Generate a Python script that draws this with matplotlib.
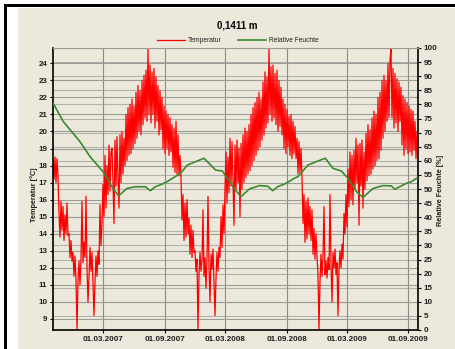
import datetime as dt

import matplotlib
matplotlib.use("Agg")
import matplotlib.pyplot as plt
import matplotlib.dates as mdates
from matplotlib.patches import Rectangle

plt.rcParams["font.family"] = "Liberation Sans"

# soil temperature at 0,1411 m, one reading every 3 days from 01.10.2006
start = dt.date(2006, 10, 1)
step_days = 3
temperatur = [
    18.3, 17.2, 18.5, 17.0, 18.4, 17.4,
    15.2, 13.8, 15.9, 14.2, 15.6, 13.6, 15.1, 14.0, 15.8, 13.9,
    14.0, 12.6, 13.6, 12.4,
    12.9, 11.5, 12.7, 11.3, 8.4,
    11.2, 12.4, 11.0,
    12.5, 15.9,
    12.3, 13.5,
    12.6, 16.2,
    12.0, 10.0, 11.5,
    13.2, 11.8, 12.9,
    11.0, 9.2, 11.2,
    12.7, 11.5, 13.0,
    12.2, 15.7, 13.3, 14.6, 16.9,
    15.0, 18.6, 15.5, 18.0,
    16.3, 19.2, 16.5, 18.8,
    19.0, 17.0, 14.6,
    19.5, 16.8, 19.7, 17.2, 15.5,
    19.8, 17.0, 20.0, 17.5, 19.6,
    18.0, 21.0, 18.3, 21.4, 18.6,
    21.6, 18.7, 21.9, 19.0, 21.5,
    19.3, 22.3, 19.6, 22.7, 20.0, 22.4, 19.8,
    23.0, 20.4, 23.3, 20.8,
    23.6, 20.6, 24.88,
    21.0, 23.9, 20.5, 23.5, 21.0,
    23.7, 20.2, 23.2, 20.6,
    22.7, 19.8, 22.4, 20.1, 22.0,
    19.0, 21.5, 18.7, 21.2, 19.0,
    21.0, 18.6, 20.8, 18.8, 20.4,
    17.9, 20.2,
    17.6, 20.6, 17.5, 19.8, 17.4,
    18.6, 17.3,
    14.8, 16.3, 13.6, 15.8, 13.8, 16.0, 14.0,
    14.9, 12.8, 14.5, 12.6, 14.2, 12.9,
    13.0, 11.8, 12.5, 8.4,
    11.6, 12.9, 11.8,
    12.4, 15.4,
    11.5, 12.6, 10.8,
    12.5, 16.2,
    12.0, 10.0,
    12.8, 11.9, 13.1,
    11.2, 9.2,
    11.4, 12.9, 11.8, 13.2,
    12.6, 15.0, 13.2, 15.7, 14.0,
    16.6, 18.8, 15.8,
    18.5, 16.4, 19.6, 16.8, 19.4, 17.2, 14.5,
    19.2, 16.6, 19.5, 17.0,
    19.0, 15.0, 19.3,
    16.6, 19.8, 17.0, 20.2, 17.3, 20.0, 17.5, 20.4,
    17.7, 21.0, 18.0, 21.4, 18.3,
    21.7, 18.6, 22.0, 18.9, 22.3, 19.1, 21.9,
    19.5, 22.9, 19.8, 23.5, 20.2, 23.2,
    20.5, 24.88, 21.0, 23.8,
    20.6, 23.9, 20.8, 23.4, 20.4, 23.6,
    20.0, 23.0, 20.3, 22.6, 19.8,
    21.9, 19.0, 21.6, 18.7, 21.3, 19.1, 20.9,
    18.6, 21.0, 18.4, 20.6, 18.7, 20.3, 18.4,
    19.6, 17.5, 19.4, 17.6,
    19.0, 17.3,
    14.6, 16.3, 13.5, 15.9, 13.7, 16.1, 14.0, 15.6, 13.6, 15.4,
    12.8, 14.3, 12.5, 14.0, 12.7,
    11.6, 8.4,
    11.2, 12.8, 11.5, 12.7,
    15.6,
    11.6, 12.4,
    11.4, 12.6, 11.9, 16.3,
    12.2, 10.0,
    12.9, 12.0, 13.1,
    11.6, 12.3, 9.2,
    11.9, 13.0, 12.0, 13.4, 12.5,
    15.2, 14.0, 16.3, 14.4,
    17.8, 15.6, 18.8, 16.0,
    18.6, 15.7, 18.9,
    16.6, 19.6, 17.0, 19.2, 14.5, 19.3, 16.8, 19.5,
    15.5, 18.8, 16.6,
    19.9, 17.1, 20.4, 17.4, 20.1, 17.5,
    20.8, 17.8, 21.2, 18.0, 21.0,
    18.3, 22.0, 18.4, 22.3, 18.9,
    23.0, 19.6, 23.3, 20.0, 23.0,
    20.6, 24.0, 20.8, 24.2,
    24.88,
    20.8, 23.7, 20.2, 23.4, 20.5,
    23.1, 20.0, 22.9, 20.6, 22.6,
    19.2, 22.1, 18.6, 21.9, 19.0,
    21.7, 18.7, 21.5, 18.8, 21.3,
    18.6, 21.2, 18.9, 20.6,
    18.4, 20.0, 18.6,
]

# relative humidity, days after 01.10.2006
feuchte_tage = [
    0, 31, 81, 111, 151, 181, 197, 222, 247, 277, 292, 307, 327, 342,
    367, 383, 403, 428, 453, 473, 488, 508, 523, 543, 564, 589, 619, 644,
    659, 674, 699, 724, 735, 765, 790, 817, 840, 865, 885, 910, 930, 960,
    990, 1015, 1025, 1040, 1060, 1075, 1093,
]
feuchte = [
    80.5, 73.9, 66.8, 61.5, 56.0, 50.0, 47.6, 50.2, 50.8, 50.8, 49.4, 50.8,
    51.7, 52.6, 54.4, 55.6, 58.5, 59.7, 60.9, 58.5, 56.7, 56.4, 53.8, 50.2,
    47.3, 50.0, 51.2, 51.0, 49.4, 50.8, 52.0, 53.8, 54.4, 58.5, 59.7, 60.9,
    57.3, 56.4, 53.8, 49.1, 47.0, 50.2, 51.2, 51.1, 49.9, 50.8, 52.0, 52.6,
    54.0,
]

temp_dates = [start + dt.timedelta(days=step_days * i) for i in range(len(temperatur))]
feuchte_dates = [start + dt.timedelta(days=d) for d in feuchte_tage]

PANEL = "#ece9dc"
RED = "#ff0000"
GREEN = "#3a8a2e"
TEXT = "#1e1e1e"

W, H = 456, 349
fig = plt.figure(figsize=(W / 100, H / 100), dpi=100)
fig.patch.set_facecolor("white")

# beige panel with the dark edge on the left and top
fig.add_artist(Rectangle((18 / W, 0), 1, 1 - 8 / H, transform=fig.transFigure,
                         facecolor=PANEL, edgecolor="none", zorder=-10))
fig.add_artist(Rectangle((4 / W, 0), 3 / W, 1 - 4 / H, transform=fig.transFigure,
                         facecolor="black", edgecolor="none", zorder=-9))
fig.add_artist(Rectangle((4 / W, 1 - 6.5 / H), 1, 2.5 / H, transform=fig.transFigure,
                         facecolor="black", edgecolor="none", zorder=-9))

ax = fig.add_axes([53 / W, 19 / H, 365 / W, 282 / H])
ax2 = ax.twinx()
# temperature axes on top of the humidity axes so its grid stays under the red line
ax.set_zorder(1)
ax.patch.set_visible(False)

l_t, = ax.plot(temp_dates, temperatur, color=RED, lw=0.9, zorder=2)
l_rh, = ax.plot(feuchte_dates, feuchte, color=GREEN, lw=1.2, zorder=3,
                transform=ax2.transData)

ax.set_xlim(dt.date(2006, 10, 1), dt.date(2009, 9, 30))
ax.set_ylim(8.35, 24.9)
ax2.set_ylim(0, 100)

ax.set_yticks(range(9, 25))
ax2.set_yticks(range(0, 101, 5))
ax.xaxis.set_major_locator(mdates.MonthLocator(bymonth=[3, 9], bymonthday=1))
ax.xaxis.set_major_formatter(mdates.DateFormatter("%d.%m.%Y"))

ax.grid(axis="y", color="#9c9c96", lw=0.8)
ax.grid(axis="x", color="#8c8c88", lw=0.8)
ax2.grid(axis="y", color="#b2b2ac", lw=0.8)

for side in ["left", "bottom", "right"]:
    ax.spines[side].set_color("black")
    ax.spines[side].set_linewidth(1.2)
ax.spines["top"].set_color("#9c9c96")
ax.spines["top"].set_linewidth(0.8)
for s in ax2.spines.values():
    s.set_visible(False)

tick_font = dict(labelsize=5.8, labelcolor=TEXT)
ax.tick_params(axis="y", direction="out", length=2.5, width=0.8, pad=1.5, **tick_font)
ax2.tick_params(axis="y", direction="out", length=2.5, width=0.8, pad=1.5, **tick_font)
ax.tick_params(axis="x", direction="out", length=2, width=0.8, pad=2.5, **tick_font)
for lab in ax.get_xticklabels() + ax.get_yticklabels() + ax2.get_yticklabels():
    lab.set_fontweight("bold")

ax.set_ylabel("Temperatur [°C]", fontsize=5.2, fontweight="bold", color=TEXT)
ax.yaxis.set_label_coords(-0.040, 0.48)
ax2.set_ylabel("Relative Feuchte [%]", fontsize=5.2, fontweight="bold", color=TEXT)
ax2.yaxis.set_label_coords(1.051, 0.496)

fig.text(237.5 / W, 1 - 25 / H, "0,1411 m", ha="center", va="center",
         fontsize=7, fontweight="bold", color="black")

fig.legend(handles=[l_t, l_rh], labels=["Temperatur", "Relative Feuchte"],
           loc="center", bbox_to_anchor=(237.5 / W, 1 - 41 / H), ncol=2,
           frameon=False, fontsize=4.8, handlelength=4.2, handletextpad=0.4,
           columnspacing=2.5, borderpad=0, borderaxespad=0, labelcolor=TEXT)

fig.savefig("out.png", dpi=100, facecolor=fig.get_facecolor())
